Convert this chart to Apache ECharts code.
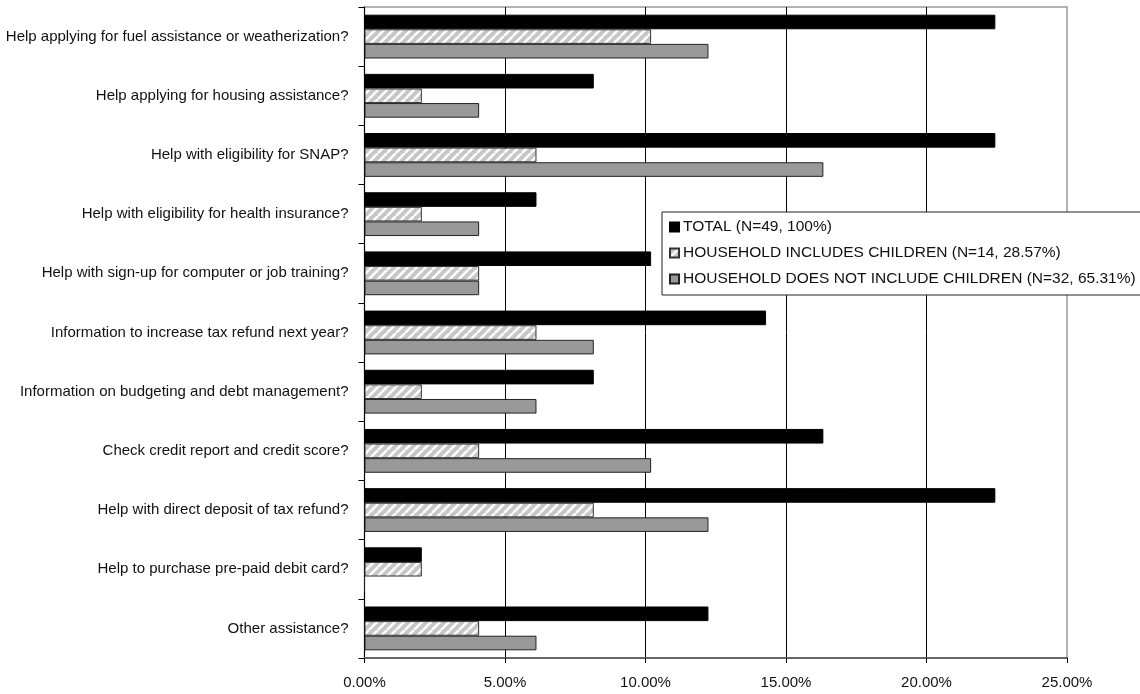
<!DOCTYPE html>
<html>
<head>
<meta charset="utf-8">
<script src="https://cdn.jsdelivr.net/npm/echarts@6/dist/echarts.min.js"></script>
<style>
  html, body { margin: 0; padding: 0; background: #fff; }
  #chart { width: 1140px; height: 694px; }
</style>
</head>
<body>
<div id="chart"></div>
<script>
// Survey questions, top to bottom
const categories = [
  'Help applying for fuel assistance or weatherization?',
  'Help applying for housing assistance?',
  'Help with eligibility for SNAP?',
  'Help with eligibility for health insurance?',
  'Help with sign-up for computer or job training?',
  'Information to increase tax refund next year?',
  'Information on budgeting and debt management?',
  'Check credit report and credit score?',
  'Help with direct deposit of tax refund?',
  'Help to purchase pre-paid debit card?',
  'Other assistance?'
];

// Share of all respondents (%), per group
const totalValues      = [22.45, 8.16, 22.45, 6.12, 10.20, 14.29, 8.16, 16.33, 22.45, 2.04, 12.24];
const childrenValues   = [10.20, 2.04, 6.12, 2.04, 4.08, 6.12, 2.04, 4.08, 8.16, 2.04, 4.08];
const noChildrenValues = [12.24, 4.08, 16.33, 4.08, 4.08, 8.16, 6.12, 10.20, 12.24, 0, 6.12];

const seriesNames = [
  'TOTAL (N=49, 100%)',
  'HOUSEHOLD INCLUDES CHILDREN (N=14, 28.57%)',
  'HOUSEHOLD DOES NOT INCLUDE CHILDREN (N=32, 65.31%)'
];

const xTicks = [0, 5, 10, 15, 20, 25];

// Diagonal white stripes on light gray
function stripePattern() {
  const c = document.createElement('canvas');
  c.width = 9; c.height = 9;
  const g = c.getContext('2d');
  g.fillStyle = '#c6c6c6';
  g.fillRect(0, 0, 9, 9);
  g.strokeStyle = '#ffffff';
  g.lineWidth = 2.6;
  g.beginPath();
  for (let k = -9; k <= 18; k += 9) {
    g.moveTo(k, 9);
    g.lineTo(k + 9, 0);
  }
  g.stroke();
  return { image: c, repeat: 'repeat' };
}

const font = 'Liberation Sans, Arial, sans-serif';
const chart = echarts.init(document.getElementById('chart'), null, { renderer: 'canvas' });

chart.setOption({
  animation: false,
  backgroundColor: '#fff',
  grid: {
    left: 364.5, right: 73, top: 7, bottom: 36,
    show: true, borderColor: '#9a9a9a', borderWidth: 1.5,
    containLabel: false
  },
  legend: {
    orient: 'vertical',
    left: 662, top: 212,
    data: seriesNames,
    itemWidth: 9, itemHeight: 9, itemGap: 10,
    padding: [7, 10, 8, 7],
    backgroundColor: '#fff',
    borderColor: '#222', borderWidth: 1,
    icon: 'rect',
    textStyle: { fontFamily: font, fontSize: 15.5, color: '#111', padding: [0, 0, 0, -1] }
  },
  xAxis: {
    type: 'value',
    min: xTicks[0], max: xTicks[xTicks.length - 1], interval: 5,
    axisLine: { show: true, lineStyle: { color: '#666', width: 2 } },
    axisTick: { show: true, length: 5, lineStyle: { color: '#000' } },
    axisLabel: {
      fontFamily: font, fontSize: 15, color: '#111', margin: 17,
      formatter: v => v.toFixed(2) + '%'
    },
    splitLine: { show: true, showMinLine: false, showMaxLine: false, lineStyle: { color: '#000', width: 1 } }
  },
  yAxis: {
    type: 'category',
    inverse: true,
    data: categories,
    axisLine: { show: true, lineStyle: { color: '#000', width: 1 } },
    axisTick: { show: true, length: 6, alignWithLabel: false, lineStyle: { color: '#000' } },
    axisLabel: { fontFamily: font, fontSize: 15, color: '#111', margin: 16 }
  },
  series: [
    {
      name: seriesNames[0], type: 'bar', data: totalValues,
      barGap: '0%', barCategoryGap: '26%',
      itemStyle: { color: '#000', borderColor: '#000', borderWidth: 1 }
    },
    {
      name: seriesNames[1], type: 'bar', data: childrenValues,
      itemStyle: { color: stripePattern(), borderColor: '#333', borderWidth: 1 }
    },
    {
      name: seriesNames[2], type: 'bar', data: noChildrenValues,
      itemStyle: { color: '#999', borderColor: '#222', borderWidth: 1 }
    }
  ]
});
</script>
</body>
</html>
